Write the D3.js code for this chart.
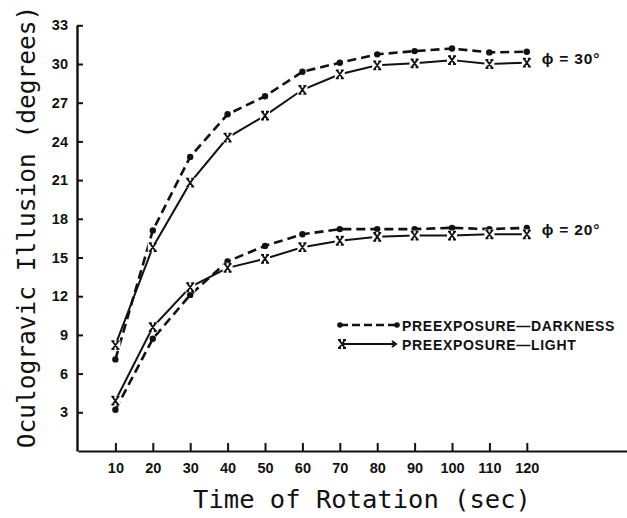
<!DOCTYPE html>
<html>
<head>
<meta charset="utf-8">
<script src="https://cdn.jsdelivr.net/npm/d3@7"></script>
<style>
  html, body { margin: 0; padding: 0; background: #fff; }
  svg { display: block; }
</style>
</head>
<body>
<svg id="chart" width="627" height="518"></svg>
<script>
// ---- data ----
const times = [10, 20, 30, 40, 50, 60, 70, 80, 90, 100, 110, 120];
const dark30  = [7.1, 17.1, 22.8, 26.1, 27.5, 29.4, 30.1, 30.75, 31.0, 31.2, 30.9, 30.95];
const light30 = [8.2, 15.8, 20.8, 24.3, 26.0, 28.0, 29.2, 29.9, 30.05, 30.3, 30.0, 30.1];
const dark20  = [3.2, 8.7, 12.1, 14.7, 15.9, 16.8, 17.2, 17.2, 17.2, 17.3, 17.2, 17.3];
const light20 = [3.9, 9.6, 12.7, 14.2, 14.9, 15.8, 16.3, 16.6, 16.7, 16.7, 16.8, 16.8];
const yTicks = [3, 6, 9, 12, 15, 18, 21, 24, 27, 30, 33];
const xTicks = [10, 20, 30, 40, 50, 60, 70, 80, 90, 100, 110, 120];
const curveLabels = ["\u03D5 = 30\u00B0", "\u03D5 = 20\u00B0"];
const legendLabels = ["PREEXPOSURE\u2014DARKNESS", "PREEXPOSURE\u2014LIGHT"];
const xTitle = "Time of Rotation (sec)";
const yTitle = "Oculogravic Illusion (degrees)";

// ---- drawing ----
const svg = d3.select("#chart");
const x = d3.scaleLinear().domain([0, 147]).range([78, 627.8]);
const y = d3.scaleLinear().domain([0, 33]).range([451, 25.3]);
const ink = "#111";
const lblFont = "'Liberation Sans', Arial, sans-serif";

// axes
const xAxis = d3.axisBottom(x).tickValues(xTicks).tickSizeInner(-8).tickSizeOuter(0).tickPadding(12);
const gx = svg.append("g").attr("transform", `translate(0,${y(0)})`).call(xAxis);
gx.select(".domain").attr("stroke", ink).attr("stroke-width", 2.2);
gx.selectAll(".tick line").attr("stroke", ink).attr("stroke-width", 2);
gx.selectAll(".tick text").attr("fill", ink)
  .style("font-family", lblFont).style("font-weight", "bold").style("font-size", "14.5px");

const yAxis = d3.axisLeft(y).tickValues(yTicks).tickSizeInner(-6).tickSizeOuter(0).tickPadding(9);
const gy = svg.append("g").attr("transform", `translate(${x(0) - 1},0)`).call(yAxis);
gy.select(".domain").attr("stroke", ink).attr("stroke-width", 2.4);
gy.selectAll(".tick line").attr("stroke", ink).attr("stroke-width", 2);
gy.selectAll(".tick text").attr("fill", ink)
  .style("font-family", lblFont).style("font-weight", "bold").style("font-size", "14.5px");

// titles
svg.append("text").attr("x", 362).attr("y", 508).attr("text-anchor", "middle")
  .attr("fill", ink).style("font-family", "'DejaVu Sans Mono', monospace")
  .style("font-size", "25.5px").text(xTitle);
svg.append("text").attr("transform", "translate(35,227) rotate(-90)").attr("text-anchor", "middle")
  .attr("fill", ink).style("font-family", "'DejaVu Sans Mono', monospace")
  .style("font-size", "24.5px").text(yTitle);

// series
const series = [
  { vals: dark30, dashed: true },
  { vals: light30, dashed: false },
  { vals: dark20, dashed: true },
  { vals: light20, dashed: false }
];
const line = d3.line().x(d => x(d[0])).y(d => y(d[1]));

function drawX(g, cx, cy) {
  g.append("path").attr("d", `M${cx-3},${cy-4}L${cx+3},${cy+4}M${cx+3},${cy-4}L${cx-3},${cy+4}M${cx-4},${cy-4}h3M${cx+1},${cy-4}h3M${cx-4},${cy+4}h3M${cx+1},${cy+4}h3`)
    .attr("stroke", ink).attr("stroke-width", 1.8).attr("fill", "none");
}

series.forEach(s => {
  const pts = times.map((t, i) => [t, s.vals[i]]);
  svg.append("path").datum(pts).attr("d", line).attr("fill", "none")
    .attr("stroke", ink).attr("stroke-width", s.dashed ? 2.6 : 2)
    .attr("stroke-dasharray", s.dashed ? "9,5" : null);
  const g = svg.append("g");
  pts.forEach(p => {
    if (s.dashed) g.append("circle").attr("cx", x(p[0])).attr("cy", y(p[1])).attr("r", 3.2).attr("fill", ink);
    else { g.append("rect").attr("x", x(p[0]) - 5).attr("y", y(p[1]) - 5).attr("width", 10).attr("height", 10).attr("fill", "#fff"); drawX(g, x(p[0]), y(p[1])); }
  });
});

// curve labels
svg.append("text").attr("x", x(120) + 15).attr("y", y(dark30[11]) + 12).attr("fill", ink)
  .style("font-family", lblFont).style("font-weight", "bold").style("font-size", "15.5px")
  .style("letter-spacing", "0.8px").text(curveLabels[0]);
svg.append("text").attr("x", x(120) + 15).attr("y", y(dark20[11]) + 7).attr("fill", ink)
  .style("font-family", lblFont).style("font-weight", "bold").style("font-size", "15.5px")
  .style("letter-spacing", "0.8px").text(curveLabels[1]);

// legend
const lg = svg.append("g");
const ly = [325, 344];
lg.append("line").attr("x1", 340).attr("x2", 397).attr("y1", ly[0]).attr("y2", ly[0])
  .attr("stroke", ink).attr("stroke-width", 2.4).attr("stroke-dasharray", "8,4");
lg.append("circle").attr("cx", 340).attr("cy", ly[0]).attr("r", 2.8).attr("fill", ink);
lg.append("circle").attr("cx", 397).attr("cy", ly[0]).attr("r", 2.8).attr("fill", ink);
lg.append("line").attr("x1", 342).attr("x2", 394).attr("y1", ly[1]).attr("y2", ly[1])
  .attr("stroke", ink).attr("stroke-width", 2);
drawX(lg, 342, ly[1]);
lg.append("path").attr("d", `M392,${ly[1]-3}L396,${ly[1]}L392,${ly[1]+3}`).attr("stroke", ink).attr("stroke-width", 2).attr("fill", "none");
legendLabels.forEach((t, i) => {
  lg.append("text").attr("x", 402).attr("y", ly[i] + 5.5).attr("fill", ink)
    .style("font-family", lblFont).style("font-weight", "bold").style("font-size", "14px")
    .style("letter-spacing", "0.7px").text(t);
});
</script>
</body>
</html>
